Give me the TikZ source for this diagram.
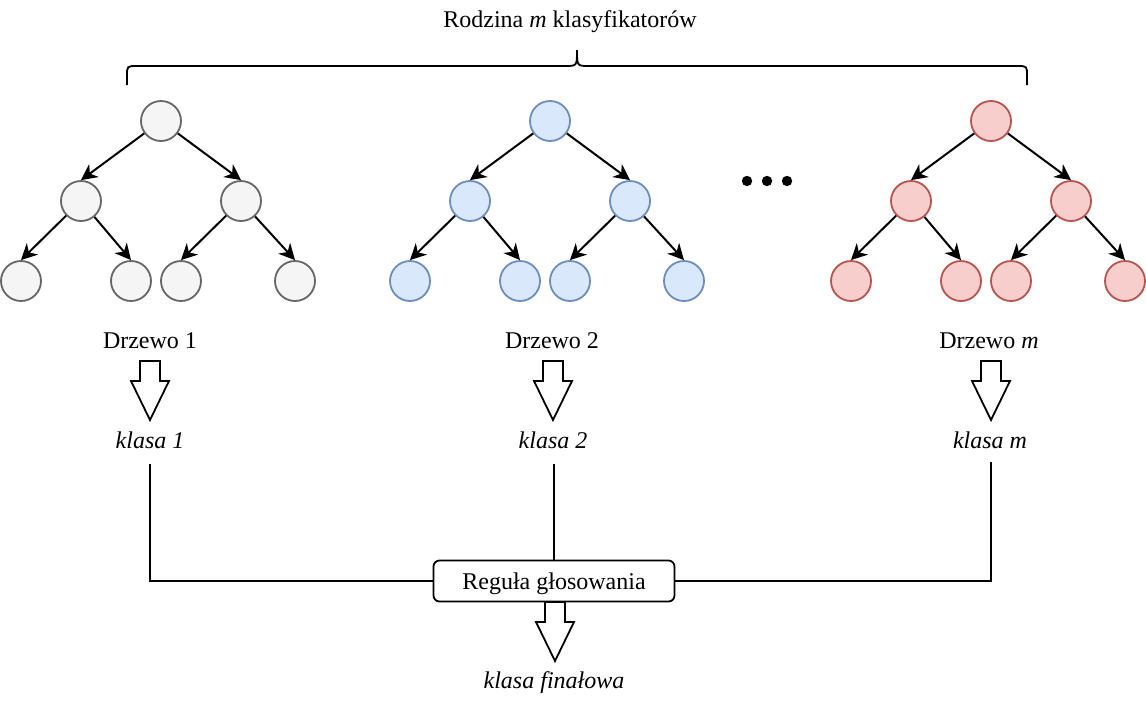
\documentclass[tikz,border=0pt]{standalone}
\usepackage{fontspec}
\setmainfont{Liberation Serif}
\usetikzlibrary{arrows.meta}
\definecolor{gfill}{HTML}{F5F5F5}
\definecolor{gline}{HTML}{666666}
\definecolor{bfill}{HTML}{DAE8FC}
\definecolor{bline}{HTML}{6C8EBF}
\definecolor{rfill}{HTML}{F8CECC}
\definecolor{rline}{HTML}{B85450}
\tikzset{
  txt/.style={font=\fontsize{12pt}{14pt}\selectfont, inner sep=0pt},
  gnode/.style={circle, minimum size=20pt, inner sep=0pt, line width=0.9pt, draw=gline, fill=gfill},
  bnode/.style={circle, minimum size=20pt, inner sep=0pt, line width=0.9pt, draw=bline, fill=bfill},
  rnode/.style={circle, minimum size=20pt, inner sep=0pt, line width=0.9pt, draw=rline, fill=rfill},
  treeedge/.style={line width=1pt, -{Stealth[length=8pt,width=8pt,inset=2.5pt]}},
  plain/.style={line width=0.9pt},
  blockarr/.pic={\draw[line width=0.9pt, line join=miter] (-10,0) -- (10,0) -- (10,20) -- (19,20) -- (0,59) -- (-19,20) -- (-10,20) -- cycle;},
  tree/.pic={
    \node[#1] (-r) at (161,121) {};
    \node[#1] (-a) at (81,201) {};
    \node[#1] (-b) at (241,201) {};
    \node[#1] (-a1) at (21,281) {};
    \node[#1] (-a2) at (131,281) {};
    \node[#1] (-b1) at (181,281) {};
    \node[#1] (-b2) at (295,281) {};
    \draw[treeedge] (-r) -- (-a.north);
    \draw[treeedge] (-r) -- (-b.north);
    \draw[treeedge] (-a) -- (-a1.north);
    \draw[treeedge] (-a) -- (-a2.north);
    \draw[treeedge] (-b) -- (-b1.north);
    \draw[treeedge] (-b) -- (-b2.north);
  }
}
\begin{document}
\begin{tikzpicture}[x=0.5pt, y=-0.5pt]
\useasboundingbox (0,0) rectangle (1146,702);
% title and brace
\node[txt] (title) at (570,22) {Rodzina \textit{m} klasyfikatorów};
\draw[plain] (127,85) -- (127,76) .. controls (127,66) .. (137,66) -- (565,66)
  .. controls (577,66) .. (577,50) .. controls (577,66) .. (589,66) -- (1017,66)
  .. controls (1027,66) .. (1027,76) -- (1027,85);
% trees
\pic (t1) at (0,0) {tree=gnode};
\pic (t2) at (389,0) {tree=bnode};
\pic (t3) at (830,0) {tree=rnode};
% dots
\fill (747,181) circle (2.6pt);
\fill (767,181) circle (2.6pt);
\fill (787,181) circle (2.6pt);
% labels
\node[txt] (d1) at (150,341) {Drzewo 1};
\node[txt] (d2) at (552,341) {Drzewo 2};
\node[txt] (d3) at (989,341) {Drzewo \textit{m}};
\pic at (150,361) {blockarr};
\pic at (553,361) {blockarr};
\pic at (991,361) {blockarr};
\node[txt] (k1) at (150,440) {\textit{klasa 1}};
\node[txt] (k2) at (553,440) {\textit{klasa 2}};
\node[txt] (k3) at (990,440) {\textit{klasa m}};
% voting box
\node[txt, text depth=0pt, draw, line width=0.9pt, rounded corners=3pt, minimum width=120.5pt, minimum height=20.5pt] (box) at (554,581) {Reguła głosowania};
\coordinate (l1) at (150,464);
\coordinate (l2) at (554,464);
\coordinate (l3) at (991,462);
\draw[plain] (l1) |- (box.west);
\draw[plain] (l2) -- (box.north);
\draw[plain] (l3) |- (box.east);
\pic at (555,602) {blockarr};
\node[txt] (kf) at (554,683) {\textit{klasa finałowa}};
\end{tikzpicture}
\end{document}
